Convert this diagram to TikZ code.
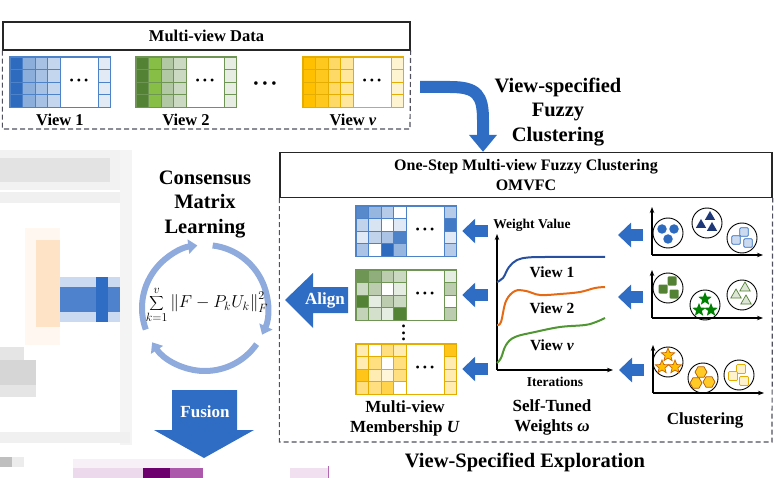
\documentclass[tikz,border=0pt]{standalone}
\usepackage{fontspec}
\setmainfont{Liberation Serif}
\usetikzlibrary{positioning,arrows.meta,shapes.geometric}

\definecolor{vblue}{RGB}{46,107,190}
\definecolor{vgreen}{RGB}{84,130,53}
\definecolor{vlime}{RGB}{134,190,70}
\definecolor{vyellow}{RGB}{255,192,0}
\definecolor{arrowblue}{RGB}{47,108,196}
\definecolor{ringblue}{RGB}{143,170,220}
\definecolor{navy}{RGB}{31,56,120}
\definecolor{boxgray}{RGB}{80,80,95}
\definecolor{curvblue}{RGB}{40,80,160}
\definecolor{curvorange}{RGB}{230,105,20}
\definecolor{curvgreen}{RGB}{80,150,50}

\begin{document}
\begin{tikzpicture}[
    x=1pt, y=-1pt,
    bigtxt/.style={font=\fontsize{20.5}{24.5}\selectfont\bfseries, align=center, inner sep=0pt},
    midtxt/.style={font=\fontsize{17}{20}\selectfont\bfseries, align=center, inner sep=0pt},
    viewtxt/.style={font=\fontsize{16.5}{19}\selectfont\bfseries, inner sep=0pt},
    smalltxt/.style={font=\fontsize{13.5}{16}\selectfont\bfseries, inner sep=0pt},
    arrtxt/.style={midtxt, text=white},
    titlebar/.style={
        draw=black!85,
        line width=1.3pt,
        font=\fontsize{16.5}{20}\selectfont\bfseries,
        align=center,
        inner sep=0pt,
    },
    dashbox/.style={draw=boxgray, line width=1.2pt, dash pattern=on 5pt off 3pt},
    matbox/.style={minimum width=100pt, minimum height=50pt, inner sep=0pt},
    cell/.style={line width=0.6pt},
    dotstxt/.style={font=\fontsize{12}{12}\selectfont, inner sep=0pt},
    fatarr/.style={line width=12pt, arrowblue, -{Triangle[width=24pt,length=13pt]}},
    bentarr/.style={line width=12pt, arrowblue, -{Triangle[width=27pt,length=17pt]}},
    axis/.style={line width=1.2pt, -{Stealth[length=6pt,width=4.5pt]}},
    ringarr/.style={line width=6pt, ringblue, -{Triangle[width=14pt,length=9pt]}},
    curve/.style={line width=2pt},
    grp/.style={draw=black, line width=0.9pt, circle, minimum size=30pt, inner sep=0pt},
    mk/.style={inner sep=0pt, line width=0.7pt},
    bdot/.style={mk, circle, fill=vblue, minimum size=9.5pt},
    ntri/.style={mk, regular polygon, regular polygon sides=3, fill=navy, minimum size=12pt},
    lbsq/.style={mk, rectangle, rounded corners=1pt, fill=vblue!25, draw=vblue, minimum size=8.5pt},
    gsq/.style={mk, rectangle, rounded corners=1pt, fill=vgreen, minimum size=9pt},
    gstar/.style={mk, star, star points=5, star point ratio=2.3, fill=green!50!black, minimum size=14pt},
    lgtri/.style={mk, regular polygon, regular polygon sides=3, fill=vgreen!20, draw=vgreen, minimum size=12pt},
    ostar/.style={mk, star, star points=5, star point ratio=2.3, fill=vyellow, draw=orange!80!black, minimum size=14pt},
    yhex/.style={mk, regular polygon, regular polygon sides=6, fill=vyellow!85, draw=orange!70!black, minimum size=12pt},
    lysq/.style={mk, rectangle, rounded corners=1pt, fill=vyellow!20, draw=vyellow!90!black, minimum size=9pt},
]
\useasboundingbox (0,0) rectangle (784,478);

% ----- Blurred left part -----
\fill[gray!10] (0,150) rectangle (132,190);
\fill[gray!22] (0,158) rectangle (110,182);
\fill[gray!12] (0,192) rectangle (132,203);
\fill[gray!9] (120,150) rectangle (132,445);
\fill[orange!6] (25,228) rectangle (60,345);
\fill[orange!22] (36,240) rectangle (60,327);
\fill[arrowblue!25] (60,277) rectangle (120,322);
\fill[arrowblue!85] (60,287) rectangle (120,312);
\fill[arrowblue] (96,277) rectangle (108,322);
\fill[gray!20] (0,347) rectangle (24,360);
\fill[gray!32] (0,360) rectangle (36,385);
\fill[gray!20] (0,385) rectangle (36,397);
\fill[gray!12] (0,432) rectangle (130,443);
\fill[gray!50] (0,457) rectangle (12,467);
\fill[gray!15] (12,457) rectangle (24,467);
\fill[violet!6] (73,459) rectangle (200,468);
\fill[violet!15] (73,468) rectangle (143,478);
\fill[violet!85!black] (143,468) rectangle (170,478);
\fill[violet!65] (170,468) rectangle (203,478);
\fill[violet!12] (290,468) rectangle (328,478);
\draw[violet!60, line width=1pt] (328,466) -- (328,478);

% ----- Multi-view data -----
\node[titlebar, minimum width=407pt, minimum height=28pt] (mvtitle) at (206.5,36) {Multi-view Data};
\draw[dashbox] (mvtitle.south west) |- (410,129) -- (mvtitle.south east);

\foreach \mx/\ca/\cb/\cc/\cd/\ce/\bd/\vl [count=\n] in {
    10/vblue/vblue!55/vblue!42/vblue!28/vblue!14/vblue!85/1,
    136/vgreen/vlime/vgreen!45/vgreen!30/vgreen!14/vgreen!85/2,
    303/vyellow/vyellow!88/vyellow!60/vyellow!38/vyellow!18/vyellow!90!black/\textit{v}} {
    \foreach \r in {0,...,3} {
        \foreach \dx/\cl in {0/\ca, 12.5/\cb, 25/\cc, 37.5/\cd, 88/\ce}
            \filldraw[cell, fill=\cl, draw=\bd] (\mx+\dx,57+12.5*\r) rectangle ++(12.5,12.5);
    }
    \draw[cell, draw=\bd, fill=white] (\mx+50,57) rectangle (\mx+88,107);
    \node[matbox] (data\n) at (\mx+50,82) {};
    \draw[\bd, line width=1pt] (data\n.north west) rectangle (data\n.south east);
    \node[dotstxt] (ddots\n) at (\mx+69,82) {• • •};
    \node[viewtxt, below=7pt of data\n] (vlab\n) {View \vl};
}
\node[dotstxt, font=\fontsize{15}{15}\selectfont] (viewdots) at (265,85) {• • •};

% ----- View-specified fuzzy clustering arrow -----
\node[bigtxt] (vsfc) at (558,112) {View-specified\\Fuzzy\\Clustering};

% ----- OMVFC frame -----
\node[titlebar, font=\fontsize{16}{20}\selectfont\bfseries, minimum width=492pt, minimum height=45pt] (omtitle) at (526,175) {One-Step Multi-view Fuzzy Clustering\\OMVFC};
\draw[dashbox] (omtitle.south west) |- (772,442) -- (omtitle.south east);
\coordinate (mvright) at (420,87);
\draw[bentarr] (mvright) -- (450,87) .. controls (477,87) and (483,95) .. (483,120) -- ([xshift=-43pt]omtitle.north);

% ----- Membership matrices -----
\foreach \my/\cn/\bd/\vals [count=\m] in {
    206/vblue/vblue!85/{80,50,35,0,35,30,18,0,15,90,15,30,40,85,15,40,0,100,50,35},
    270/vgreen/vgreen!85/{85,65,40,30,15,30,40,0,15,40,100,15,40,30,0,35,25,15,100,40},
    344/vyellow/vyellow!90!black/{30,0,50,30,90,30,50,0,50,30,90,30,15,50,30,50,50,70,0,30}} {
    \foreach \v [count=\i from 0] in \vals {
        \pgfmathtruncatemacro\rowno{\i/5}
        \pgfmathtruncatemacro\colno{mod(\i,5)}
        \pgfmathsetmacro\xo{\colno==4 ? 88 : 12.5*\colno}
        \filldraw[cell, fill=\cn!\v, draw=\bd] (356+\xo,\my+12.5*\rowno) rectangle ++(12.5,12.5);
    }
    \draw[cell, draw=\bd, fill=white] (406,\my) rectangle (444,\my+50);
    \node[matbox] (mem\m) at (406,\my+25) {};
    \draw[\bd, line width=1pt] (mem\m.north west) rectangle (mem\m.south east);
    \node[dotstxt] (mdots\m) at (425,\my+25) {• • •};
    \draw[fatarr] ([xshift=32pt]mem\m.east) -- ([xshift=6pt]mem\m.east);
}
\node[dotstxt, rotate=90] (memvdots) at (405,333) {•\,•\,•};
\node[midtxt] (memlab) at (405,418) {Multi-view\\Membership \textit{U}};

% ----- Align arrow -----
\fill[arrowblue] (285,300) -- (313,273) -- (313,287) -- (348,287) -- (348,313) -- (313,313) -- (313,328) -- cycle;
\node[arrtxt] (align) at (325,300) {Align};

% ----- Self-tuned weights -----
\coordinate (wc) at (497,370);
\draw[axis] (wc) -- ++(0,-136);
\draw[axis] (wc) -- ++(116,0);
\node[smalltxt] (wval) at (532,225) {Weight Value};
\node[smalltxt] (iter) at (555,382) {Iterations};
\draw[curve, curvblue] plot[smooth, tension=0.6] coordinates {(497,282) (503,278) (509,267) (517,260) (528,257.5) (545,257) (605,257)};
\draw[curve, curvorange] plot[smooth, tension=0.6] coordinates {(497,325) (501,322) (506,301) (515,291) (526,291) (540,295) (560,294) (580,292) (595,288) (605,287)};
\draw[curve, curvgreen] plot[smooth, tension=0.6] coordinates {(497,363) (501,358) (506,345) (515,337) (535,332) (560,327) (585,325) (596,322) (605,318)};
\node[viewtxt, font=\fontsize{15.5}{18}\selectfont\bfseries] (wv1) at (552,272) {View 1};
\node[viewtxt, font=\fontsize{15.5}{18}\selectfont\bfseries] (wv2) at (552,308) {View 2};
\node[viewtxt, font=\fontsize{15.5}{18}\selectfont\bfseries] (wvv) at (552,345) {View \textit{v}};
\node[midtxt] (stw) at (552,417) {Self-Tuned\\Weights \textit{ω}};

% ----- Clustering plots -----
\foreach \ox/\oy/\ay [count=\p] in {652/255/-20, 652/318/-21, 653/393/-23} {
    \coordinate (clu\p) at (\ox,\oy);
    \draw[axis] (clu\p) -- ++(0,-48);
    \draw[axis] (clu\p) -- ++(111,0);
    \draw[fatarr] ([shift={(-9,\ay)}]clu\p) -- ([shift={(-34,\ay)}]clu\p);
}
\foreach \gx/\gy/\st/\ax/\ay/\bx/\by/\cx/\cy [count=\g] in {
    668/233/bdot/-6/-4/6/-4/0/6,
    707/223/ntri/-6/2/3/-6/5/5,
    742/238/lbsq/2/-6/-6/2/6/5,
    668/288/gsq/4/-7/-5/1/6/6,
    705/305/gstar/0/-6/-6/5/6/5,
    742/295/lgtri/3/-7/-6/0/4/6,
    668/362/ostar/0/-7/-6/5/7/5,
    703/378/yhex/-2/-6/-7/5/6/4,
    739/375/lysq/2/-6/-6/1/5/6} {
    \node[grp] (grp\g) at (\gx,\gy) {};
    \node[\st] (grp\g-a) at (\gx+\ax,\gy+\ay) {};
    \node[\st] (grp\g-b) at (\gx+\bx,\gy+\by) {};
    \node[\st] (grp\g-c) at (\gx+\cx,\gy+\cy) {};
}
\node[midtxt] (clulab) at (705,420) {Clustering};

\node[bigtxt] (vse) at (525,462) {View-Specified Exploration};

% ----- Consensus matrix learning -----
\node[bigtxt] (cml) at (205,204) {Consensus\\Matrix\\Learning};
\coordinate (ring) at (205,308);
\draw[ringarr] ([shift={(200:63pt)}]ring) arc[start angle=200, end angle=97, radius=63pt];
\draw[ringarr] ([shift={(83:63pt)}]ring) arc[start angle=83, end angle=-25, radius=63pt];
\draw[ringarr] ([shift={(-35:63pt)}]ring) arc[start angle=-35, end angle=-147, radius=63pt];
\node[inner sep=0pt, font=\fontsize{17.5}{20}\selectfont] (loss) at (207,305) {$\displaystyle\sum_{k=1}^{v}\left\|F-P_kU_k\right\|_F^2$};

% ----- Fusion arrow -----
\fill[arrowblue] (172,390) -- (237,390) -- (237,430) -- (254,430) -- (204,458) -- (154,430) -- (172,430) -- cycle;
\node[arrtxt] (fusion) at (205,412) {Fusion};

\end{tikzpicture}
\end{document}
